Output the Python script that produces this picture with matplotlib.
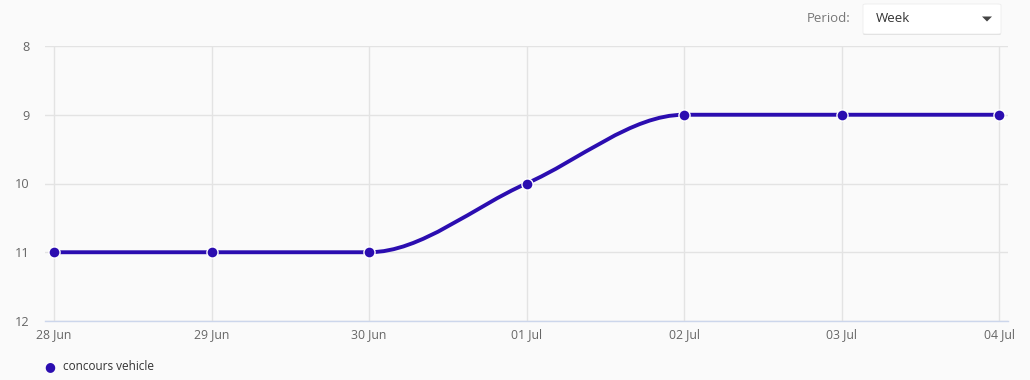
import numpy as np
import matplotlib.pyplot as plt
from matplotlib.path import Path
from matplotlib.patches import PathPatch, FancyBboxPatch, Polygon

plt.rcParams['font.family'] = ['Open Sans', 'DejaVu Sans']

days = ['28 Jun', '29 Jun', '30 Jun', '01 Jul', '02 Jul', '03 Jul', '04 Jul']
values = [11, 11, 11, 10, 9, 9, 9]
y_ticks = [8, 9, 10, 11, 12]
series_name = 'concours vehicle'
period_label = 'Period:'
period_value = 'Week'

line_col = '#2b0db0'
bg = '#fafafa'
W, H = 1030, 380


def monotone_path(x, y):
    # monotone cubic (Fritsch-Carlson) tangents, drawn as bezier segments
    x = np.asarray(x, float)
    y = np.asarray(y, float)
    h = np.diff(x)
    d = np.diff(y) / h
    m = np.zeros_like(y)
    m[0], m[-1] = d[0], d[-1]
    for i in range(1, len(y) - 1):
        if d[i - 1] * d[i] > 0:
            m[i] = 2 / (1 / d[i - 1] + 1 / d[i])
    verts = [(x[0], y[0])]
    codes = [Path.MOVETO]
    for i in range(len(x) - 1):
        verts += [(x[i] + h[i] / 3, y[i] + m[i] * h[i] / 3),
                  (x[i + 1] - h[i] / 3, y[i + 1] - m[i + 1] * h[i] / 3),
                  (x[i + 1], y[i + 1])]
        codes += [Path.CURVE4] * 3
    return Path(verts, codes)


fig = plt.figure(figsize=(W / 100, H / 100), dpi=100, facecolor=bg)
ax = fig.add_axes([45 / W, (H - 321) / H, (1008 - 45) / W, (321 - 46) / H])
ax.set_facecolor(bg)

xs = np.arange(len(days))
pad = 9 / 157.5
ax.set_xlim(-pad, len(days) - 1 + pad)
ax.set_ylim(12, 8)

ax.add_patch(PathPatch(monotone_path(xs, values), fill=False, ec=line_col,
                       lw=2.8, capstyle='round', zorder=3))
ax.plot(xs, values, 'o', color=line_col, ms=8, mec='white', mew=1,
        zorder=4, clip_on=False)

ax.set_xticks(xs)
ax.set_xticklabels(days)
ax.set_yticks(y_ticks)
ax.grid(True, color='#e3e3e3', lw=1)
ax.set_axisbelow(True)
for s in ['top', 'right', 'left']:
    ax.spines[s].set_visible(False)
ax.spines['bottom'].set_color('#ccd6eb')
ax.spines['bottom'].set_linewidth(1)
ax.tick_params(axis='both', length=0, colors='#666666', labelsize=8.8)
ax.tick_params(axis='y', pad=11)
ax.tick_params(axis='x', pad=5)
for lbl in ax.get_yticklabels():
    lbl.set_fontsize(9.2)

# legend
fig.text(50 / W, (H - 367) / H, '\u25cf', color=line_col, fontsize=9,
         ha='center', va='center', family=['DejaVu Sans'])
fig.text(63 / W, (H - 367) / H, series_name, color='#333333', fontsize=8.5,
         ha='left', va='center')

# period dropdown
fig.text(850 / W, (H - 19) / H, period_label, color='#777777', fontsize=9.5,
         ha='right', va='center')
shadow = FancyBboxPatch((863 / W, (H - 35) / H), 138 / W, 30 / H,
                        boxstyle='round,pad=0,rounding_size=0.003',
                        transform=fig.transFigure, fc='#dddddd', ec='none')
box = FancyBboxPatch((863 / W, (H - 34) / H), 138 / W, 30 / H,
                     boxstyle='round,pad=0,rounding_size=0.003',
                     transform=fig.transFigure, fc='white', ec='#ececec', lw=0.6)
caret = Polygon([(982 / W, (H - 16.5) / H), (992 / W, (H - 16.5) / H),
                 (987 / W, (H - 21.5) / H)], closed=True,
                transform=fig.transFigure, fc='#444444', ec='none')
fig.patches.extend([shadow, box, caret])
fig.text(876 / W, (H - 19) / H, period_value, color='#333333', fontsize=9.5,
         ha='left', va='center')

fig.savefig('out.png', dpi=100, facecolor=bg)
